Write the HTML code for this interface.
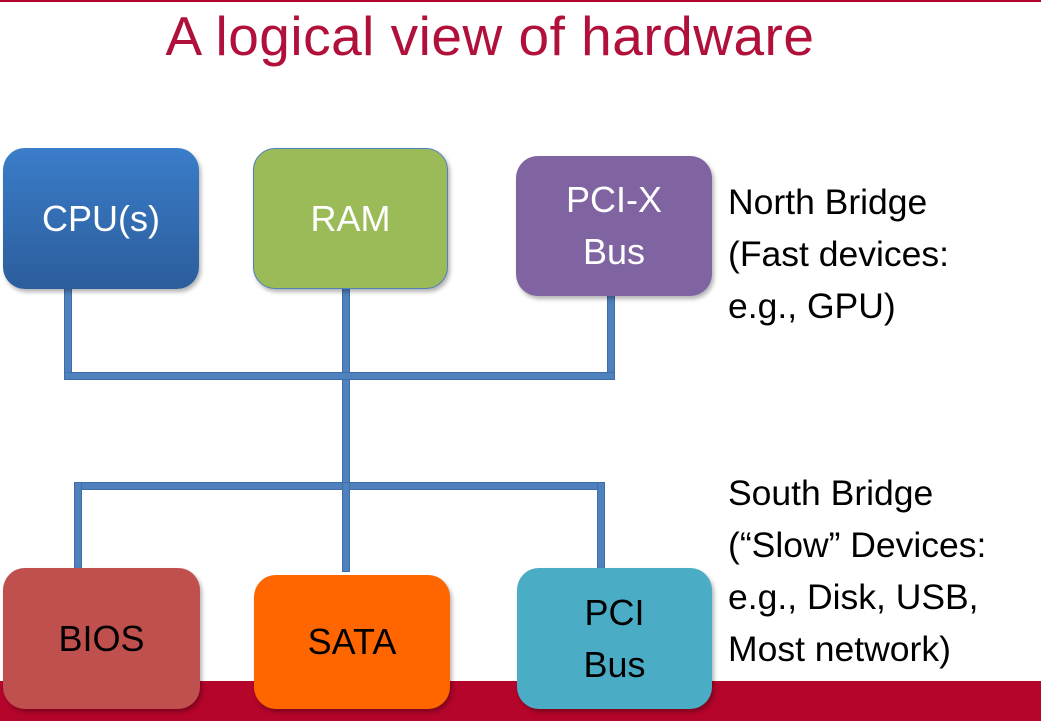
<!DOCTYPE html>
<html><head><meta charset="utf-8"><style>
body{margin:0;width:1041px;height:721px;position:relative;background:#fff;overflow:hidden;font-family:"Liberation Sans",sans-serif}
.t{position:absolute;left:0;width:980px;text-align:center;top:4px;font-size:55px;color:#b0103a;letter-spacing:0.5px}
.band{position:absolute;left:0;top:681px;width:1041px;height:40px;background:#b5052b}
.top{position:absolute;left:0;top:0;width:1041px;height:2px;background:#b5052b}
.b{position:absolute;border-radius:22px;display:flex;align-items:center;justify-content:center;text-align:center;font-size:36px;line-height:52px;box-shadow:2px 3px 4px rgba(0,0,0,.3)}
.l{position:absolute;background:#4f81bd;border:1px solid #3d6ea8;box-sizing:border-box}
.r{position:absolute;left:728px;font-size:35.5px;line-height:52px;color:#000}
</style></head><body>
<div class="top"></div>
<div class="t">A logical view of hardware</div>
<div class="band"></div>
<div class="l" style="left:64px;top:285px;width:8px;height:95px"></div>
<div class="l" style="left:342px;top:285px;width:8px;height:245px"></div>
<div class="l" style="left:607px;top:292px;width:8px;height:88px"></div>
<div class="l" style="left:64px;top:372px;width:551px;height:8px"></div>
<div class="l" style="left:74px;top:482px;width:531px;height:8px"></div>
<div class="l" style="left:74px;top:482px;width:8px;height:90px"></div>
<div class="l" style="left:342px;top:482px;width:8px;height:90px"></div>
<div class="l" style="left:597px;top:482px;width:8px;height:90px"></div>
<div class="b" style="left:3px;top:148px;width:196px;height:141px;background:linear-gradient(#3a7dc9,#2c5d9c);color:#fff">CPU(s)</div>
<div class="b" style="left:253px;top:148px;width:195px;height:141px;background:#9bbb59;color:#fff;border:1px solid #4f81bd;box-sizing:border-box">RAM</div>
<div class="b" style="left:516px;top:156px;width:196px;height:140px;background:#8064a2;color:#fff">PCI-X<br>Bus</div>
<div class="b" style="left:3px;top:568px;width:197px;height:141px;background:#c0504d;color:#000">BIOS</div>
<div class="b" style="left:254px;top:575px;width:196px;height:134px;background:#ff6600;color:#000">SATA</div>
<div class="b" style="left:517px;top:568px;width:195px;height:141px;background:#4bacc6;color:#000">PCI<br>Bus</div>
<div class="r" style="top:176px">North Bridge<br>(Fast devices:<br>e.g., GPU)</div>
<div class="r" style="top:467px">South Bridge<br>(“Slow” Devices:<br>e.g., Disk, USB,<br>Most network)</div>
</body></html>
